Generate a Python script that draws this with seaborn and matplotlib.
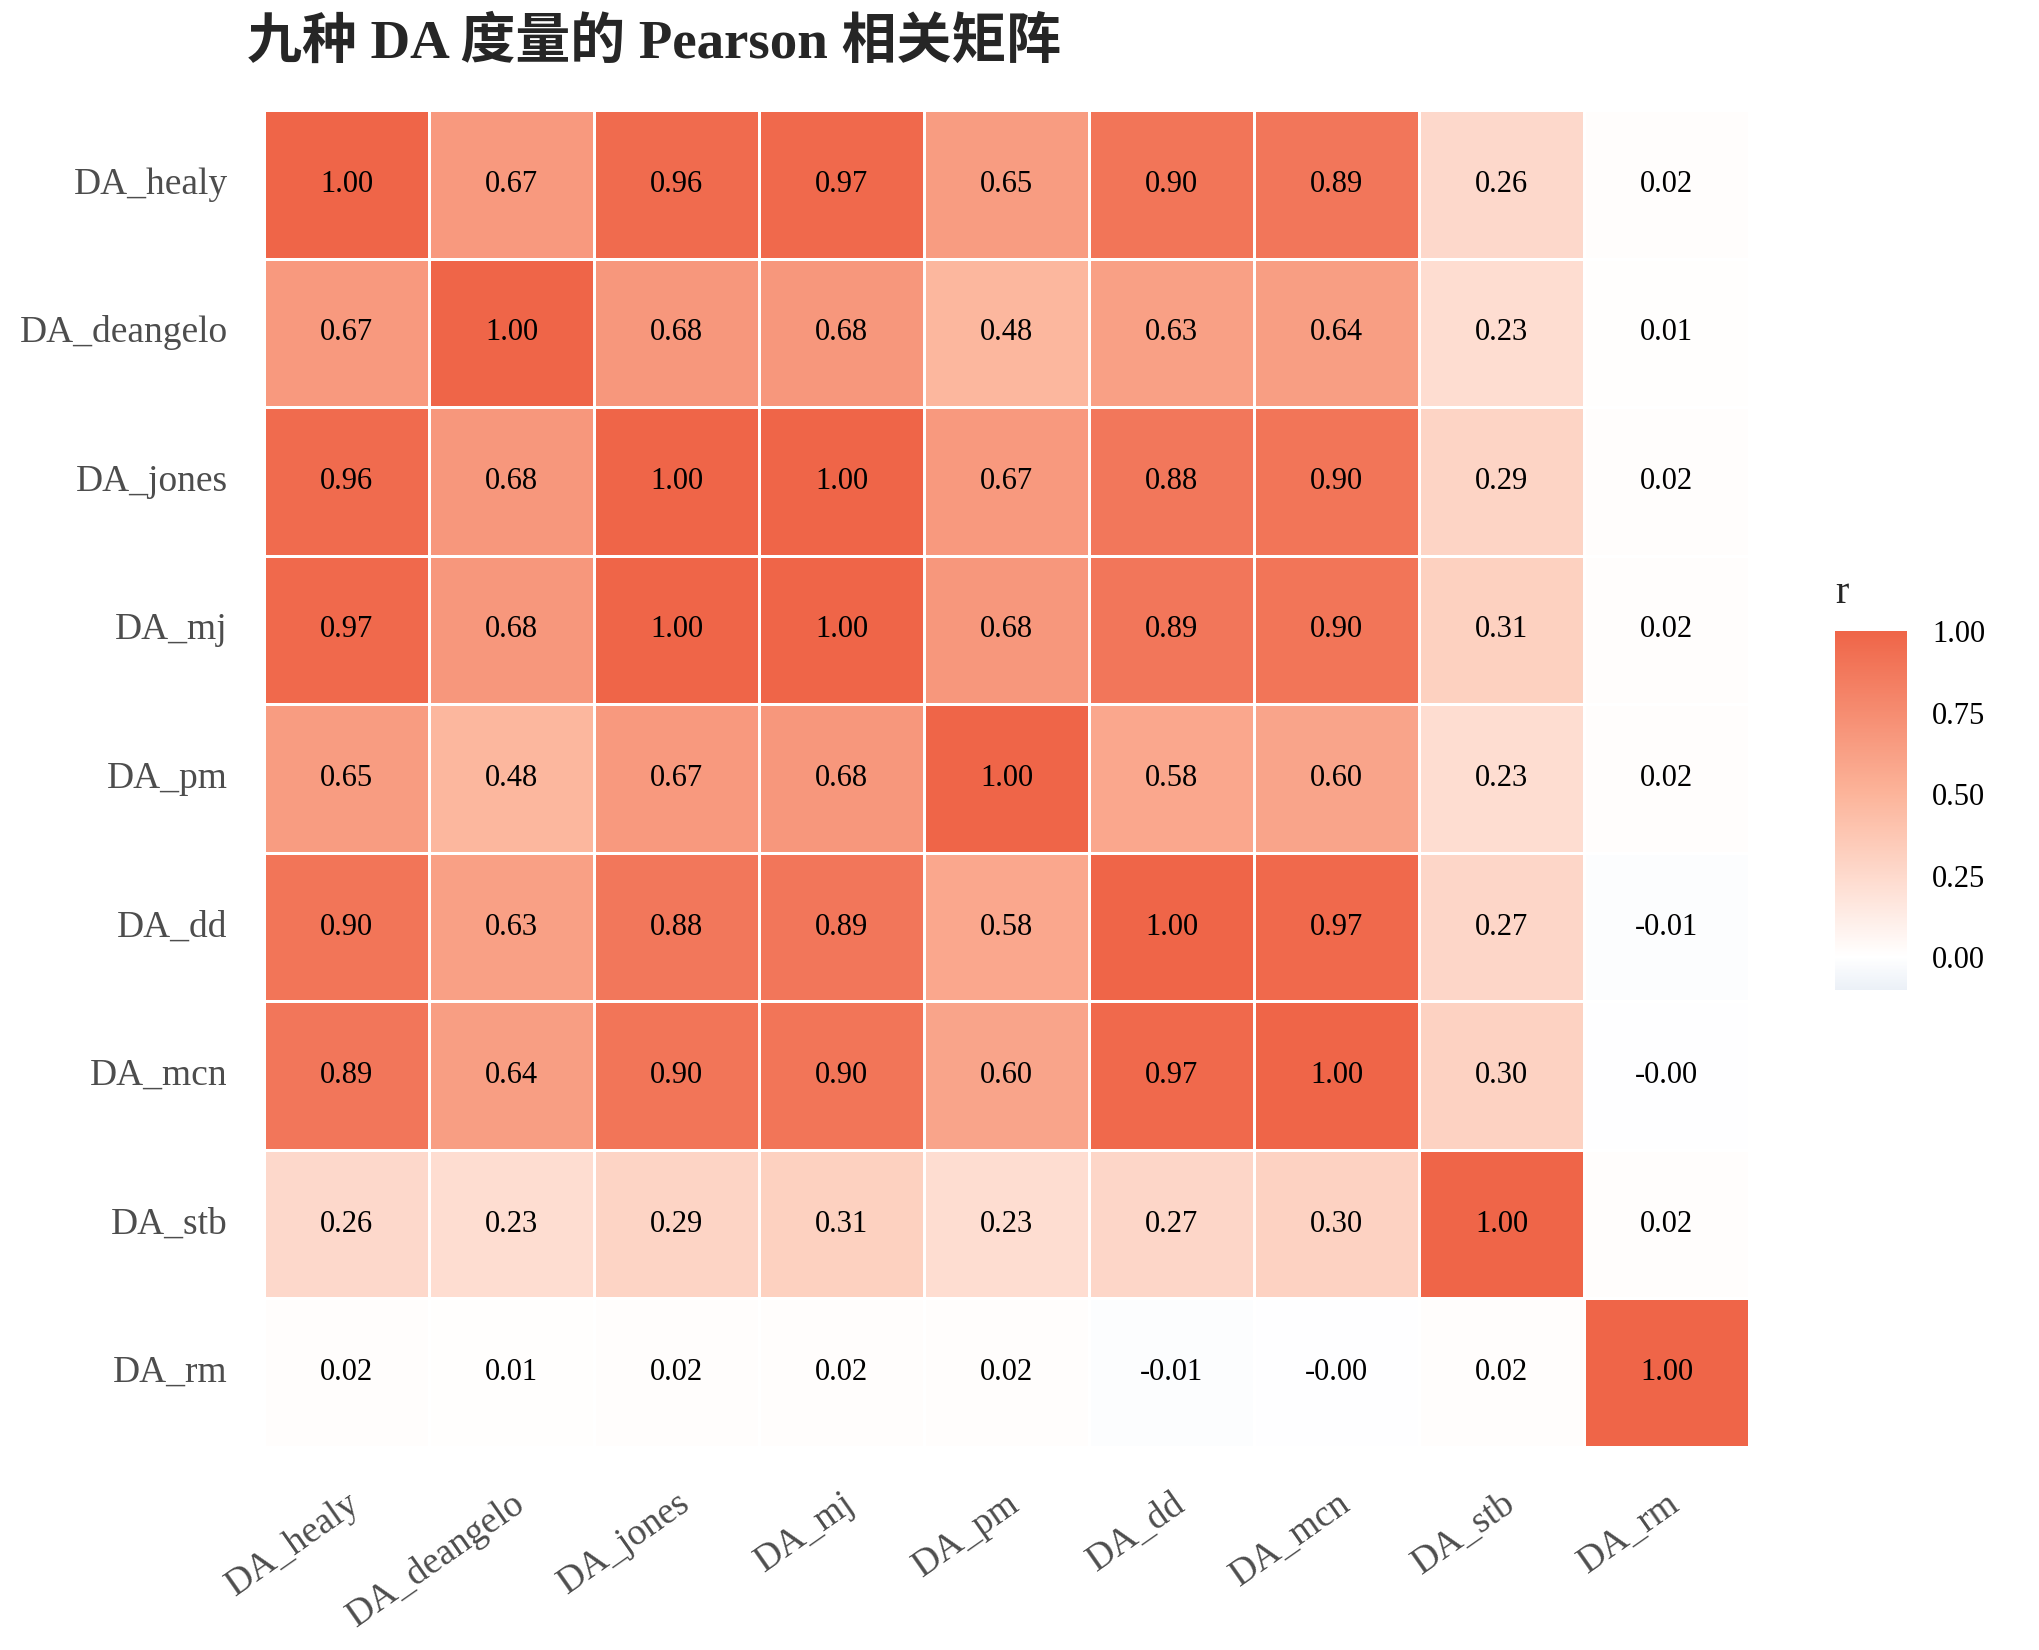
import numpy as np
import pandas as pd
import matplotlib.pyplot as plt
import seaborn as sns
from matplotlib.colors import LinearSegmentedColormap

# DA measures and their Pearson correlations
measures = ['DA_healy', 'DA_deangelo', 'DA_jones', 'DA_mj', 'DA_pm',
            'DA_dd', 'DA_mcn', 'DA_stb', 'DA_rm']

r_healy    = [1.00, 0.67, 0.96, 0.97, 0.65, 0.90, 0.89, 0.26, 0.02]
r_deangelo = [0.67, 1.00, 0.68, 0.68, 0.48, 0.63, 0.64, 0.23, 0.01]
r_jones    = [0.96, 0.68, 1.00, 1.00, 0.67, 0.88, 0.90, 0.29, 0.02]
r_mj       = [0.97, 0.68, 1.00, 1.00, 0.68, 0.89, 0.90, 0.31, 0.02]
r_pm       = [0.65, 0.48, 0.67, 0.68, 1.00, 0.58, 0.60, 0.23, 0.02]
r_dd       = [0.90, 0.63, 0.88, 0.89, 0.58, 1.00, 0.97, 0.27, -0.01]
r_mcn      = [0.89, 0.64, 0.90, 0.90, 0.60, 0.97, 1.00, 0.30, -0.004]
r_stb      = [0.26, 0.23, 0.29, 0.31, 0.23, 0.27, 0.30, 1.00, 0.02]
r_rm       = [0.02, 0.01, 0.02, 0.02, 0.02, -0.01, -0.004, 0.02, 1.00]

corr = pd.DataFrame([r_healy, r_deangelo, r_jones, r_mj, r_pm,
                     r_dd, r_mcn, r_stb, r_rm],
                    index=measures, columns=measures)

sns.set_style('white')
plt.rcParams['font.family'] = ['Liberation Serif', 'Noto Sans CJK SC', 'DejaVu Sans']

# diverging scale, white at 0
vmin, vmax = -0.1, 1.0
z = (0 - vmin) / (vmax - vmin)
cmap = LinearSegmentedColormap.from_list(
    'da_r', [(0.0, '#EBF0F7'), (z, '#FFFFFF'),
             (z + (1 - z) * 0.5, '#FCB49A'), (1.0, '#EF6548')])

fig = plt.figure(figsize=(20.4, 16.5), dpi=100)
ax = fig.add_axes([0.1294, 0.1230, 0.7280, 0.8103])
cax = fig.add_axes([0.8995, 0.4000, 0.0353, 0.2176])

sns.heatmap(corr, ax=ax, cbar_ax=cax, cmap=cmap, vmin=vmin, vmax=vmax,
            annot=True, fmt='.2f',
            annot_kws={'size': 22, 'color': 'black'},
            linewidths=2, linecolor='white',
            cbar_kws={'ticks': [0, 0.25, 0.5, 0.75, 1.0], 'format': '%.2f'})

ax.tick_params(axis='both', length=0, labelsize=27, labelcolor='#4D4D4D')
ax.tick_params(axis='y', pad=26)
ax.tick_params(axis='x', pad=28)
plt.setp(ax.get_yticklabels(), rotation=0)
plt.setp(ax.get_xticklabels(), rotation=35, ha='right', rotation_mode='anchor')
ax.set_xlabel('')
ax.set_ylabel('')

# colorbar styled like a ggplot guide
cb = ax.collections[0].colorbar
cb.outline.set_visible(False)
cax.tick_params(axis='y', which='both', direction='in', left=True, right=True,
                labelleft=False, labelright=True, color='white', length=11,
                width=1.2, labelsize=22, labelcolor='black', pad=18)

fig.text(0.8995, 0.6345, 'r', fontsize=29, ha='left', va='baseline')
fig.text(0.121, 0.965, '九种 DA 度量的 Pearson 相关矩阵', fontsize=39.5,
         fontweight='bold', ha='left', va='baseline')

fig.savefig('out.png', dpi=100)
